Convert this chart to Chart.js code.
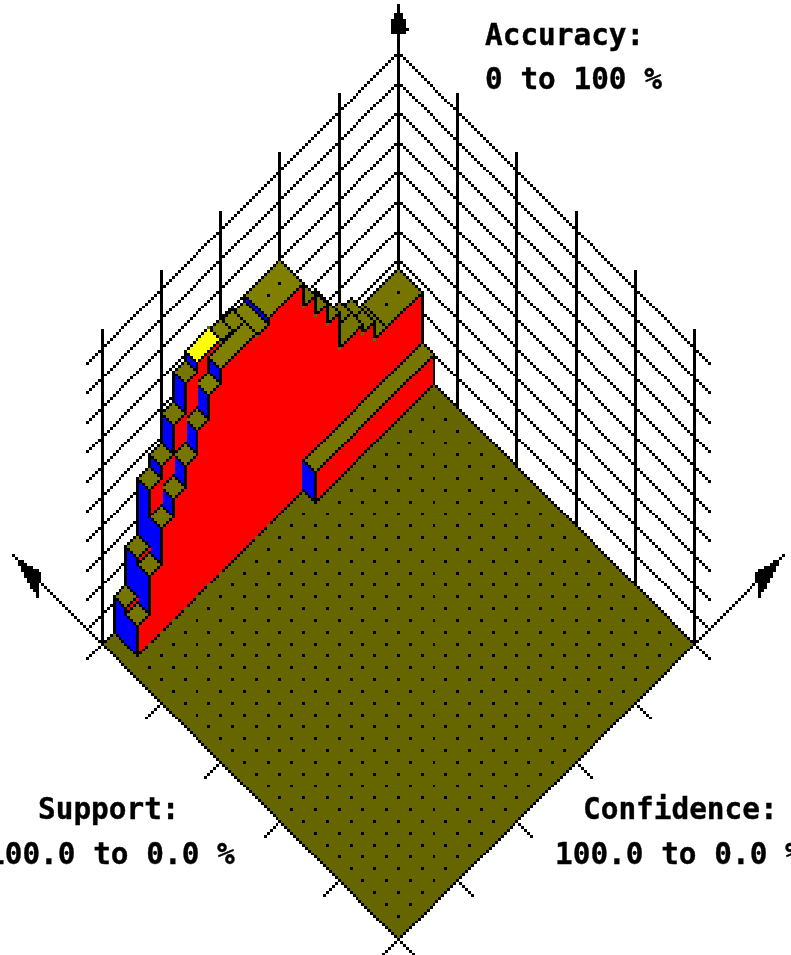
<!DOCTYPE html>
<html>
<head>
<meta charset="utf-8">
<style>
  html, body { margin: 0; padding: 0; background: #fff; overflow: hidden; }
  #wrap { position: relative; width: 791px; height: 955px; overflow: hidden; }
  #chart { position: absolute; left: 0; top: 1px; width: 791px !important; height: 955px !important; image-rendering: pixelated; }
  .lbl { position: absolute; font: bold 29.4px "DejaVu Sans Mono", monospace; line-height: 34px; white-space: pre; color: #000; -webkit-text-stroke: 0.4px #000; }
</style>
<script src="https://cdn.jsdelivr.net/npm/chart.js@4"></script>
</head>
<body>
<div id="wrap">
  <canvas id="chart" width="791" height="955"></canvas>
  <div class="lbl" style="left:485px;top:18px">Accuracy:</div>
  <div class="lbl" style="left:485px;top:62px">0 to 100 %</div>
  <div class="lbl" style="left:38px;top:792px">Support:</div>
  <div class="lbl" style="left:-13px;top:837px">100.0 to 0.0 %</div>
  <div class="lbl" style="left:583px;top:792px">Confidence:</div>
  <div class="lbl" style="left:555px;top:837px">100.0 to 0.0 %</div>
</div>
<script>
// --- axis ticks (percent) ---
const axisTicks = [0, 20, 40, 60, 80, 100];
const accuracyTicks = [0, 10, 20, 30, 40, 50, 60, 70, 80, 90, 100];

// --- bars, listed back to front (percent) ---
const supportFrom    = [0, 0, 4, 0, 4, 0, 0, 4, 0, 4, 0, 4, 0, 4, 0, 0, 0, 0, 0, 4, 4, 0, 4, 0, 4, 0, 4, 0, 4, 0, 4, 0, 4, 8];
const supportTo      = [8, 4, 8, 4, 8, 4, 4, 8, 4, 8, 4, 8, 4, 8, 8, 8, 4, 4, 4, 8, 8, 4, 8, 4, 8, 4, 8, 4, 8, 4, 8, 4, 8, 12];
const confidenceFrom = [0, 12, 12, 16, 16, 20, 24, 20, 28, 28, 32, 32, 36, 36, 40, 52, 56, 60, 64, 56, 68, 72, 72, 76, 76, 80, 80, 84, 84, 88, 88, 92, 92, 0];
const confidenceTo   = [12, 16, 16, 20, 20, 24, 28, 28, 32, 32, 36, 36, 40, 40, 52, 56, 60, 64, 72, 68, 72, 76, 76, 80, 80, 84, 84, 88, 88, 92, 92, 96, 96, 40];
const accuracyValues = [27, 27, 27, 33, 33, 36, 40, 36, 48, 48, 53, 55, 60, 62, 70, 68, 69, 70, 71, 69, 64, 68, 56, 58, 48, 48, 41, 44, 35, 25, 23, 12, 10, 10];

// one percent is one low-res canvas pixel, the canvas is enlarged by css
const PIXEL_RATIO = 0.3385;
const CANVAS_W = 791 * PIXEL_RATIO, CANVAS_H = 955 * PIXEL_RATIO;
const ORIGIN_X = 134.5, ORIGIN_Y = 317.5;
function project(s, c, a) {
    return { x: ORIGIN_X + (s - c), y: ORIGIN_Y - (200 - s - c) - a };
}

const INK = '#000000';
const LINE_W = 1 / PIXEL_RATIO;
const PALETTE = [[0, 0, 0], [255, 255, 255], [102, 102, 0], [128, 128, 0], [117, 117, 0], [255, 0, 0], [0, 0, 255], [255, 255, 0]];
const datasets = [];

function addLine(points, color) {
    datasets.push({
        data: points, showLine: true, fill: false, borderColor: color || INK,
        borderWidth: LINE_W, pointRadius: 0, clip: false
    });
}
function addPoly(points, fillColor, borderColor, borderWidth) {
    datasets.push({
        data: points.concat([points[0]]), showLine: true, fill: 'shape', backgroundColor: fillColor,
        borderColor: borderColor || INK, borderWidth: borderWidth === undefined ? LINE_W : borderWidth,
        pointRadius: 0, clip: false
    });
}
function addDots(points) {
    if (!points.length) return;
    datasets.push({
        data: points, showLine: false, pointStyle: 'rect', pointRadius: LINE_W * Math.SQRT2 / 2,
        pointBackgroundColor: INK, pointBorderWidth: 0, clip: false
    });
}

// --- back walls ---
accuracyTicks.forEach(a => {
    addLine([project(0, 0, a), project(0, 105.5, a)]);
    addLine([project(0, 0, a), project(105.5, 0, a)]);
});
axisTicks.forEach(t => {
    if (t > 0) {
        addLine([project(0, t, 0), project(0, t, 106)]);
        addLine([project(t, 0, 0), project(t, 0, 106)]);
    }
    // ticks on the front edges
    addLine([project(t, 100, 0), project(t, 105.5, 0)]);
    addLine([project(100, t, 0), project(105.5, t, 0)]);
});

// --- arrows ---
addLine([project(0, 0, 0), project(0, 0, 116)]);
addLine([project(100, 100, 0), project(-30, 100, 0)]);
addLine([project(100, 100, 0), project(100, -30, 0)]);
addPoly([project(-0.5, 0.5, 113), project(0.5, -0.5, 113), project(1.2, -1.2, 109), project(1.2, -1.2, 107),
         project(-1.2, 1.2, 107), project(-1.2, 1.2, 109)], INK, INK, 1);
addPoly([project(-28.6, 100, 0), project(-22.5, 98.5, 0), project(-19, 103, 0)], INK, INK, 1);
addPoly([project(100, -28.6, 0), project(98.5, -22.5, 0), project(103, -19, 0)], INK, INK, 1);

// --- floor ---
addPoly([project(0, 0, 0), project(0, 100, 0), project(100, 100, 0), project(100, 0, 0)], '#666600');
const floorDots = [];
for (let s = 4; s < 100; s += 4) {
    for (let c = 4; c < 100; c += 4) floorDots.push(project(s, c, 0));
}
addDots(floorDots);

// height of the bar standing right in front of (bigger confidence) this one
function frontHeight(k) {
    let h = null;
    accuracyValues.forEach((a, j) => {
        if (confidenceFrom[j] === confidenceTo[k] && supportFrom[j] < supportTo[k] && supportTo[j] > supportFrom[k]) {
            h = h === null ? a : Math.min(h, a);
        }
    });
    return h === null ? 0 : h;
}
// height of the bar just behind this one in the same red wall
function backHeight(k) {
    let h = 0;
    accuracyValues.forEach((a, j) => {
        if (confidenceTo[j] === confidenceFrom[k] && supportTo[j] === supportTo[k]) h = a;
    });
    return h;
}
// height of the neighbour in the next support row, sharing the same blue plane
function rowHeight(supportEdge, k, useFrom) {
    let h = 0;
    accuracyValues.forEach((a, j) => {
        const edge = useFrom ? supportFrom[j] : supportTo[j];
        if (edge === supportEdge && confidenceTo[j] === confidenceTo[k]) h = a;
    });
    return h;
}

// --- bars ---
const topAccuracy = Math.max(...accuracyValues);
accuracyValues.forEach((a, k) => {
    const s0 = supportFrom[k], s1 = supportTo[k], c0 = confidenceFrom[k], c1 = confidenceTo[k];
    // red wall has no outline, neighbours melt together
    addPoly([project(s1, c0, 0), project(s1, c1, 0), project(s1, c1, a), project(s1, c0, a)], '#ff0000', '#ff0000', LINE_W / 2);
    addLine([project(s1, c0, 0), project(s1, c1, 0)]);
    const back = backHeight(k), front = frontHeight(k);
    if (back < a) addLine([project(s1, c0, back), project(s1, c0, a)]);
    if (front < a) {
        // blue side, also melting into the next row
        addPoly([project(s0, c1, front), project(s1, c1, front), project(s1, c1, a), project(s0, c1, a)], '#0000ff', '#0000ff', LINE_W / 2);
        addLine([project(s0, c1, front), project(s1, c1, front)]);
        const leftFrom = Math.max(front, rowHeight(s0, k, false));
        const rightFrom = Math.max(front, rowHeight(s1, k, true));
        if (leftFrom < a) addLine([project(s0, c1, leftFrom), project(s0, c1, a)]);
        if (rightFrom < a) addLine([project(s1, c1, rightFrom), project(s1, c1, a)]);
    }
    let cap = (c0 >= 40 && c1 <= 72) ? '#808000' : '#757500';
    if (a === topAccuracy) cap = '#ffff00';
    addPoly([project(s0, c0, a), project(s1, c0, a), project(s1, c1, a), project(s0, c1, a)], cap);
    const inner = [];
    for (let s = s0 + 4; s < s1; s += 4) {
        for (let c = c0 + 4; c < c1; c += 4) inner.push(project(s, c, a));
    }
    addDots(inner);
});

// first listed is painted last by Chart.js, so flip the order
datasets.forEach((d, idx) => { d.order = datasets.length - idx; });

// the old bitmap had no antialiasing: snap every pixel to the palette
const snapPixels = {
    id: 'snapPixels',
    afterDraw(chart) {
        const ctx = chart.ctx, w = chart.canvas.width, h = chart.canvas.height;
        const img = ctx.getImageData(0, 0, w, h), d = img.data;
        for (let p = 0; p < d.length; p += 4) {
            // empty canvas counts as white
            const al = d[p + 3] / 255;
            const r = d[p] * al + 255 * (1 - al), g = d[p + 1] * al + 255 * (1 - al), b = d[p + 2] * al + 255 * (1 - al);
            let best = PALETTE[0], bestD = Infinity;
            if (Math.abs(r - g) < 8 && Math.abs(g - b) < 8) {
                // grey is a black line fading into the white page
                best = r < 190 ? PALETTE[0] : PALETTE[1];
            } else {
                PALETTE.forEach(col => {
                    const dd = (col[0] - r) ** 2 + (col[1] - g) ** 2 + (col[2] - b) ** 2;
                    if (dd < bestD) { bestD = dd; best = col; }
                });
            }
            d[p] = best[0]; d[p + 1] = best[1]; d[p + 2] = best[2]; d[p + 3] = 255;
        }
        ctx.putImageData(img, 0, 0);
    }
};

new Chart(document.getElementById('chart'), {
    type: 'scatter',
    data: { datasets: datasets },
    plugins: [snapPixels],
    options: {
        responsive: false,
        animation: false,
        devicePixelRatio: PIXEL_RATIO,
        layout: { padding: 0, autoPadding: false },
        elements: { line: { tension: 0 } },
        plugins: { legend: { display: false }, tooltip: { enabled: false }, title: { display: false } },
        scales: {
            x: { type: 'linear', display: false, min: 0, max: CANVAS_W },
            y: { type: 'linear', display: false, min: 0, max: CANVAS_H, reverse: true }
        }
    }
});
</script>
</body>
</html>
